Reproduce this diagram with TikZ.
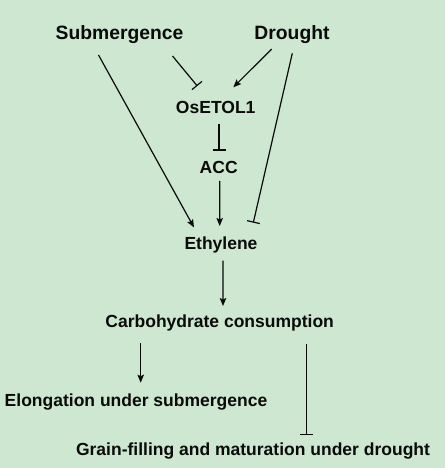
\documentclass[tikz,border=0pt]{standalone}
\usepackage{fontspec}
\setmainfont{Liberation Sans}
\usepackage{tikz}
\usetikzlibrary{arrows.meta, positioning, calc}
\definecolor{bggreen}{RGB}{205,231,208}
\definecolor{inkblack}{RGB}{10,10,10}

\tikzset{
    term/.style={font=\fontsize{17.5bp}{20bp}\selectfont\bfseries, text=inkblack, inner sep=0pt, anchor=base},
    stressterm/.style={term, font=\fontsize{19.3bp}{22bp}\selectfont\bfseries},
    promote/.style={-{Stealth[length=8bp,width=6.5bp,inset=1.5bp]}, line width=1.2bp, inkblack},
    inhibit/.style={-{Bar[width=13bp,line width=1.2bp]}, line width=1.2bp, inkblack}
}

\begin{document}
\begin{tikzpicture}[x=1bp, y=-1bp]
    % Background
    \fill[bggreen] (0,0) rectangle (445,468);
    \useasboundingbox (0,0) rectangle (445,468);

    % Stresses
    \node[stressterm] (sub) at (119.5,40) {Submergence};
    \node[stressterm] (dro) at (292,40) {Drought};

    % Pathway
    \node[term] (etol) at (215.7,114) {OsETOL1};
    \node[term] (acc) at (218.7,174) {ACC};
    \node[term] (eth) at (221,249.5) {Ethylene};
    \node[term] (carb) at (219.7,327.3) {Carbohydrate consumption};

    % Outcomes
    \node[term] (elong) at (136,406.7) {Elongation under submergence};
    \node[term] (grain) at (253,455) {Grain-filling and maturation under drought};

    % Stress inputs
    \draw[promote] ($(sub.base)+(-21,15)$) -- ($(eth.base)+(-27,-22)$);
    \draw[inhibit] ($(sub.base)+(53,16)$) -- ($(etol.base)+(-18.4,-28)$);
    \draw[promote] ($(dro.base)+(-20.3,9)$) -- ($(etol.base)+(17.6,-26.7)$);
    \draw[inhibit] ($(dro.base)+(0.3,13.3)$) -- ($(eth.base)+(32.3,-26.8)$);

    % Ethylene synthesis
    \draw[inhibit] ($(etol.base)+(3.3,10)$) -- ($(acc.base)+(0.3,-23.3)$);
    \draw[promote] ($(acc.base)+(1,7)$) -- ($(eth.base)+(-1.3,-23.5)$);
    \draw[promote] ($(eth.base)+(2,11.2)$) -- ($(carb.base)+(3.3,-21.3)$);

    % Effects
    \draw[promote] ($(carb.base)+(-79,16)$) -- ($(elong.base)+(4.7,-24)$);
    \draw[inhibit] ($(carb.base)+(87,17)$) -- ($(grain.base)+(53.7,-20)$);
\end{tikzpicture}
\end{document}
